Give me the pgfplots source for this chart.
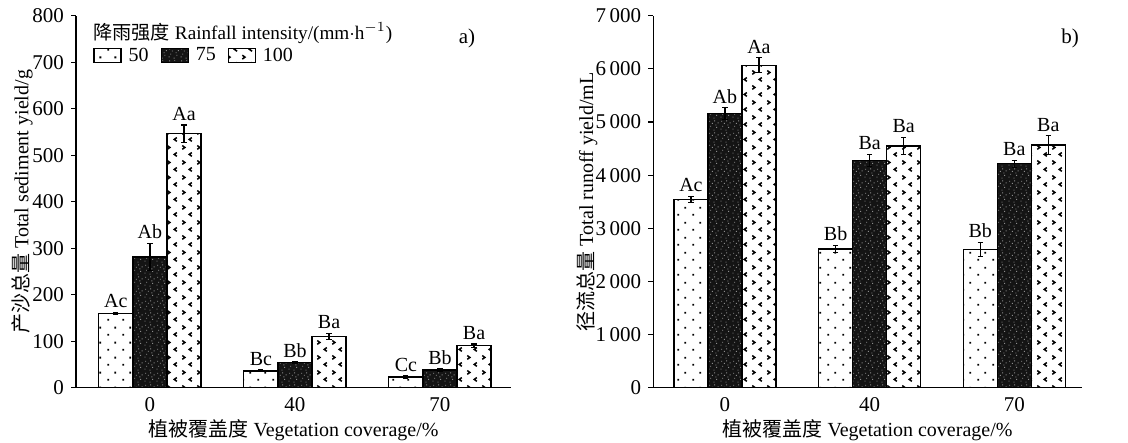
\documentclass[border=0pt]{standalone}
\usepackage{fontspec}
\setmainfont{Liberation Serif}
\newfontfamily\cjk{Noto Sans CJK SC}
\usepackage{pgfplots}
\usepackage{pgfplotstable}
\pgfplotsset{compat=1.18}
\usetikzlibrary{patterns}

% sparse staggered dots (50)
\pgfdeclarepatternformonly{sdots}{\pgfpoint{0pt}{0pt}}{\pgfpoint{7.5pt}{7.5pt}}{\pgfpoint{7.5pt}{7.5pt}}{
  \pgfpathrectangle{\pgfpoint{1.2pt}{1.2pt}}{\pgfpoint{1pt}{1pt}}
  \pgfpathrectangle{\pgfpoint{4.95pt}{4.95pt}}{\pgfpoint{1pt}{1pt}}
  \pgfusepath{fill}}
% speckles (75)
\pgfdeclarepatternformonly{speck}{\pgfpoint{0pt}{0pt}}{\pgfpoint{6pt}{6pt}}{\pgfpoint{6pt}{6pt}}{
  \pgfpathrectangle{\pgfpoint{0.3pt}{0.8pt}}{\pgfpoint{0.5pt}{0.5pt}}
  \pgfpathrectangle{\pgfpoint{2.1pt}{3.9pt}}{\pgfpoint{0.5pt}{0.5pt}}
  \pgfpathrectangle{\pgfpoint{4.4pt}{1.7pt}}{\pgfpoint{0.5pt}{0.5pt}}
  \pgfpathrectangle{\pgfpoint{3.3pt}{5.2pt}}{\pgfpoint{0.5pt}{0.5pt}}
  \pgfpathrectangle{\pgfpoint{5.2pt}{4.1pt}}{\pgfpoint{0.5pt}{0.5pt}}
  \pgfpathrectangle{\pgfpoint{1.2pt}{2.3pt}}{\pgfpoint{0.5pt}{0.5pt}}
  \pgfpathrectangle{\pgfpoint{3.0pt}{0.2pt}}{\pgfpoint{0.5pt}{0.5pt}}
  \pgfpathrectangle{\pgfpoint{0.6pt}{5.0pt}}{\pgfpoint{0.5pt}{0.5pt}}
  \pgfpathrectangle{\pgfpoint{4.0pt}{3.0pt}}{\pgfpoint{0.5pt}{0.5pt}}
  \pgfusepath{fill}}
% chevrons (100): rows of ">" alternating with rows of "<"
\pgfdeclarepatternformonly{chev}{\pgfpoint{0pt}{0pt}}{\pgfpoint{7.5pt}{7.5pt}}{\pgfpoint{7.5pt}{7.5pt}}{
  \pgfsetlinewidth{0.8pt}
  \pgfsetmiterjoin
  \pgfpathmoveto{\pgfpoint{1.2pt}{6.6pt}}\pgfpathlineto{\pgfpoint{2.6pt}{5.6pt}}\pgfpathlineto{\pgfpoint{1.2pt}{4.6pt}}
  \pgfpathmoveto{\pgfpoint{6.3pt}{2.9pt}}\pgfpathlineto{\pgfpoint{4.9pt}{1.9pt}}\pgfpathlineto{\pgfpoint{6.3pt}{0.9pt}}
  \pgfusepath{stroke}}

% ---------- data: x = group index + bar offset ----------
\pgfplotstableread{
x y e lab
-0.235 160 2 Ac
0.765 36 2 Bc
1.765 23 2 Cc
}\Lfifty
\pgfplotstableread{
x y e lab
0 281 29 Ab
1 54 2 Bb
2 38 2 Bb
}\Lseventyfive
\pgfplotstableread{
x y e lab
0.235 546 19 Aa
1.235 110 7 Ba
2.235 90 4 Ba
}\Lhundred
\pgfplotstableread{
x y e lab
-0.235 3545 55 Ac
0.765 2610 65 Bb
1.765 2604 130 Bb
}\Rfifty
\pgfplotstableread{
x y e lab
0 5156 110 Ab
1 4279 115 Ba
2 4216 65 Ba
}\Rseventyfive
\pgfplotstableread{
x y e lab
0.235 6067 140 Aa
1.235 4548 160 Ba
2.235 4567 175 Ba
}\Rhundred

\pgfplotsset{
  mybar/.style={
    scale only axis, ybar, bar shift=0pt, bar width=0.235,
    axis x line*=bottom, axis y line*=left,
    axis line style={-, line width=0.7pt, black},
    xtick={0,1,2}, xticklabels={0,40,70},
    x tick style={draw=none},
    tick align=outside, major tick length=2.5pt,
    y tick style={line width=0.6pt, black},
    ymin=0,
    tick label style={font=\fontsize{10.5}{12}\selectfont},
    label style={font=\fontsize{10.5}{12}\selectfont},
    /pgf/number format/assume math mode=true,
    /pgf/number format/1000 sep={\,},
    scaled y ticks=false,
    xticklabel style={yshift=1pt},
    every axis x label/.style={at={(axis description cs:0.5,-0.115)}, anchor=center},
    clip=false,
  },
  s50/.style={draw=black, line width=0.6pt, fill=white, postaction={pattern=sdots}},
  s75/.style={draw=black, line width=0.6pt, fill=black!92, postaction={pattern=speck, pattern color=black!45}},
  s100/.style={draw=black, line width=0.6pt, fill=white, postaction={pattern=chev}},
  eb/.style={error bars/.cd, y dir=both, y explicit,
    error bar style={line width=0.6pt, black},
    error mark options={rotate=90, line width=0.6pt, mark size=1.3pt, black}},
  lbl/.style={draw=none, fill=none, forget plot, nodes near coords, point meta=explicit symbolic,
    every node near coord/.append style={font=\fontsize{10}{12}\selectfont, inner sep=1pt, anchor=south, yshift=1pt, black}},
}

\begin{document}
\begin{tikzpicture}
\path[use as bounding box] (0,0) rectangle (564pt,221.5pt);

% ---------------- panel a ----------------
\begin{axis}[mybar,
  at={(38pt,27.65pt)}, anchor=south west,
  width=217.5pt, height=186pt,
  xmin=-0.51, xmax=2.49, ymax=800, ytick={0,100,...,800},
  xlabel={{\cjk 植被覆盖度} Vegetation coverage/\%},
  every axis y label/.style={at={(axis description cs:-0.124,0.5)}, rotate=90, anchor=center},
  ylabel={{\cjk 产沙总量} Total sediment yield/g},
  legend style={at={(axis description cs:0.039,0.892)}, anchor=west, draw=none, fill=none,
    inner sep=0pt, font=\fontsize{10}{12}\selectfont, legend columns=3,
    /tikz/every odd column/.append style={column sep=1.5pt},
    /tikz/every even column/.append style={column sep=4pt}},
  legend image code/.code={\draw[#1, /pgfplots/bar shift=0pt] (0pt,-3.5pt) rectangle (13.5pt,3.5pt);},
]
\addplot[s50, eb] table[x=x, y=y, y error=e] {\Lfifty};
\addlegendentry{50}
\addplot[s75, eb] table[x=x, y=y, y error=e] {\Lseventyfive};
\addlegendentry{75}
\addplot[s100, eb] table[x=x, y=y, y error=e] {\Lhundred};
\addlegendentry{100}
\addplot[lbl] table[x=x, y expr=\thisrow{y}+\thisrow{e}, meta=lab] {\Lfifty};
\addplot[lbl] table[x=x, y expr=\thisrow{y}+\thisrow{e}, meta=lab] {\Lseventyfive};
\addplot[lbl] table[x=x, y expr=\thisrow{y}+\thisrow{e}, meta=lab] {\Lhundred};
\node[anchor=west, inner sep=0pt, font=\fontsize{9.6}{12}\selectfont] at (axis description cs:0.039,0.953)
  {{\cjk 降雨强度} Rainfall intensity/(mm$\cdot$h$^{-1}$)};
\node[font=\fontsize{10.5}{12}\selectfont] at (axis description cs:0.899,0.94) {a)};
\end{axis}

% ---------------- panel b ----------------
\begin{axis}[mybar,
  at={(326.65pt,27.65pt)}, anchor=south west,
  width=214.2pt, height=186pt,
  xmin=-0.495, xmax=2.466, ymax=7000, ytick={0,1000,...,7000},
  xlabel={{\cjk 植被覆盖度} Vegetation coverage/\%},
  every axis y label/.style={at={(axis description cs:-0.155,0.5)}, rotate=90, anchor=center},
  ylabel={{\cjk 径流总量} Total runoff yield/mL},
]
\addplot[s50, eb] table[x=x, y=y, y error=e] {\Rfifty};
\addplot[s75, eb] table[x=x, y=y, y error=e] {\Rseventyfive};
\addplot[s100, eb] table[x=x, y=y, y error=e] {\Rhundred};
\addplot[lbl] table[x=x, y expr=\thisrow{y}+\thisrow{e}, meta=lab] {\Rfifty};
\addplot[lbl] table[x=x, y expr=\thisrow{y}+\thisrow{e}, meta=lab] {\Rseventyfive};
\addplot[lbl] table[x=x, y expr=\thisrow{y}+\thisrow{e}, meta=lab] {\Rhundred};
\node[font=\fontsize{10.5}{12}\selectfont] at (axis description cs:0.973,0.94) {b)};
\end{axis}
\end{tikzpicture}
\end{document}
